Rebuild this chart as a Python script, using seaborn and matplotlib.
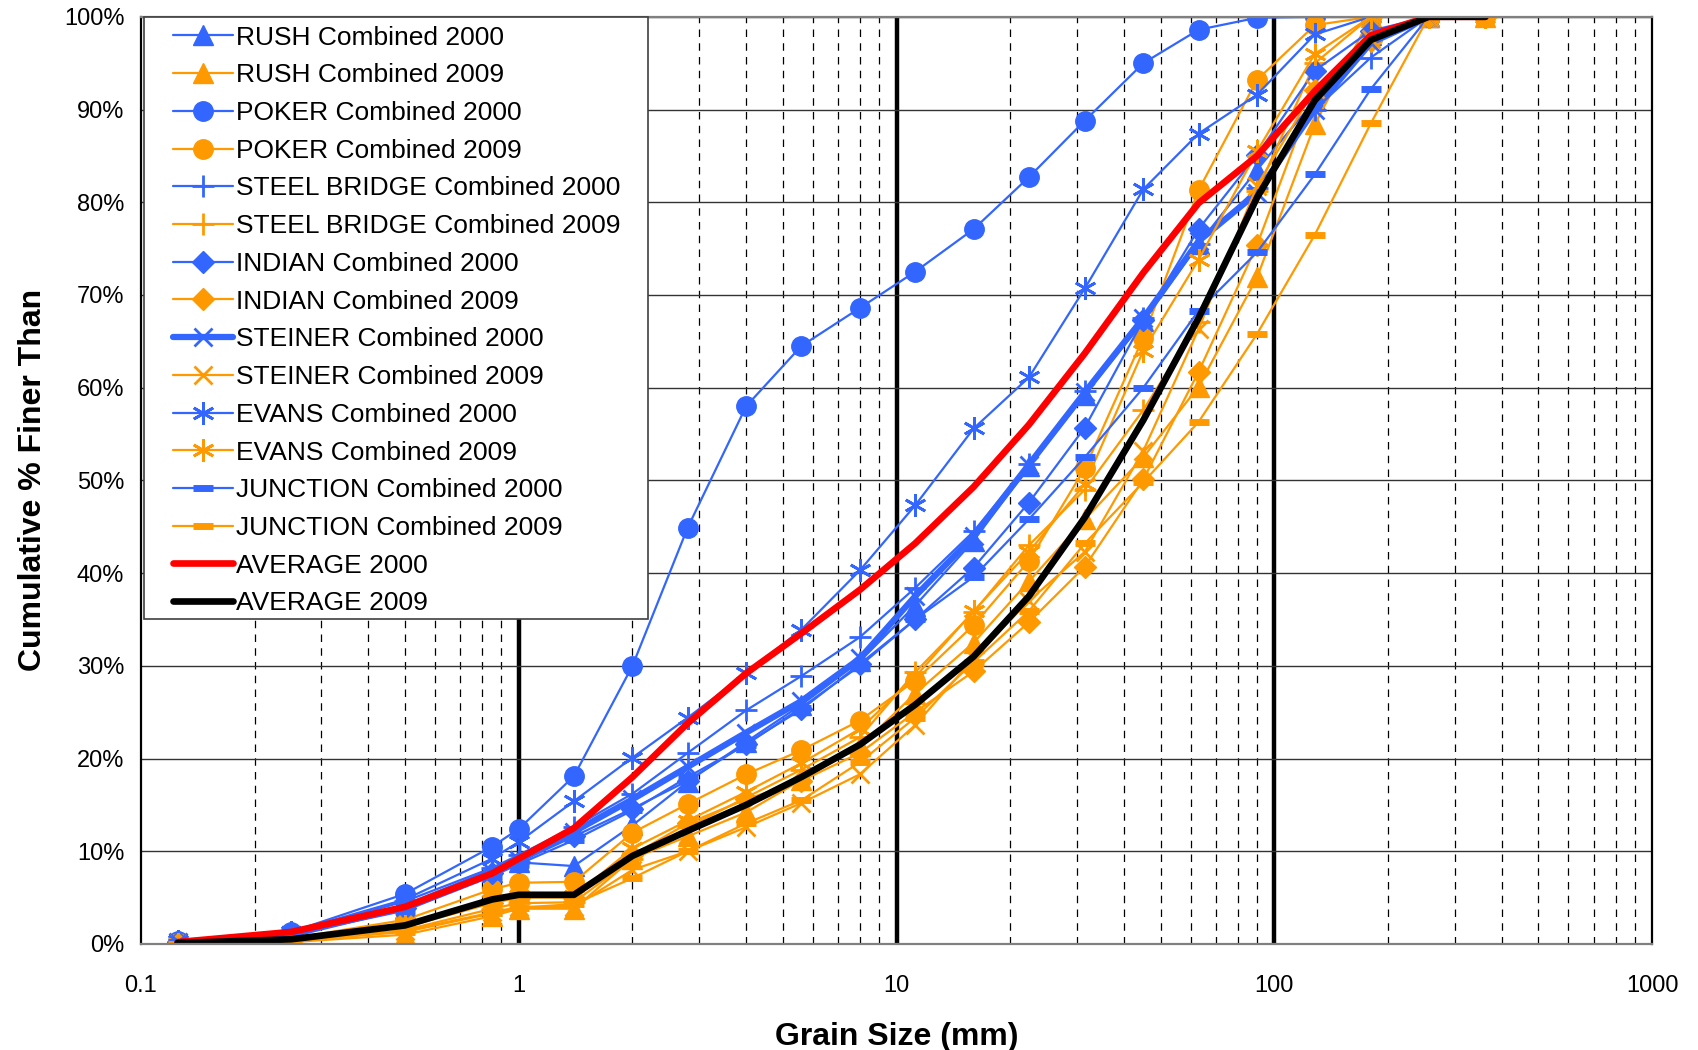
import numpy as np
import seaborn as sns
import matplotlib.pyplot as plt
from matplotlib.patches import Rectangle
from matplotlib.ticker import LogLocator, FixedLocator, FixedFormatter, NullFormatter, MultipleLocator, PercentFormatter

sns.set_style("white")
plt.rcParams['font.family'] = ['Liberation Sans', 'DejaVu Sans']
plt.rcParams['text.color'] = 'black'
plt.rcParams['axes.labelcolor'] = 'black'
plt.rcParams['xtick.color'] = 'black'
plt.rcParams['ytick.color'] = 'black'

# sieve sizes (mm)
sizes_2000 = [0.125, 0.25, 0.5, 0.85, 1, 1.4, 2, 2.8, 4, 5.6, 8, 11.2, 16, 22.4, 31.5, 45, 63, 90, 128, 180, 256]
sizes_2009 = sizes_2000 + [362]

rush_2000 = [0.2, 1.0, 3.8, 7.8, 8.8, 8.4, 12.8, 17.5, 21.8, 25.8, 30.5, 36.5, 43.5, 51.5, 59.2, 67.2, 75.5, 83.5, 91, 98, 100]
rush_2009 = [0, 0.2, 1.0, 3.0, 3.8, 3.8, 9.2, 11.6, 14.2, 17.7, 21.3, 27, 32.5, 39.1, 45.8, 52.5, 60.1, 71.9, 88.4, 100, 100, 100]
poker_2000 = [0.3, 1.3, 5.4, 10.5, 12.4, 18.1, 30, 44.9, 58, 64.5, 68.6, 72.5, 77.1, 82.7, 88.8, 95, 98.6, 99.9, 100, 100, 100]
poker_2009 = [0.1, 0.6, 2.6, 5.9, 6.6, 6.7, 12, 15.1, 18.3, 20.9, 24.1, 28.4, 34.4, 41.3, 51.3, 65.4, 81.3, 93.2, 99.1, 100, 100, 100]
steel_2000 = [0.2, 1.2, 4.6, 8.2, 9.6, 12.6, 16.2, 20.6, 25.2, 28.9, 33.1, 38.4, 44.5, 51.8, 59.6, 67.5, 75.5, 81.5, 90, 95.6, 100]
steel_2009 = [0, 0.3, 1.5, 3.8, 4.4, 4.5, 9.2, 12.6, 15.8, 18.8, 22.3, 29.3, 35.8, 43, 49, 57.6, 67.1, 81.2, 95, 100, 100, 100]
indian_2000 = [0.2, 1.0, 3.9, 7.6, 8.8, 11.6, 14.6, 17.6, 21.6, 25.3, 30.2, 35, 40.6, 47.6, 55.7, 67.3, 77.1, 85.1, 94.2, 98.5, 100]
indian_2009 = [0, 0.3, 1.8, 4.4, 5.0, 5.0, 9.6, 13, 15.6, 17.6, 20.6, 25, 29.4, 34.7, 40.7, 50.1, 61.7, 75.4, 92.1, 97.4, 100, 100]
steiner_2000 = [0.2, 1.0, 4.0, 7.8, 9.1, 12.1, 15.6, 19.1, 22.8, 26.2, 30.8, 37.5, 44, 51.7, 59.5, 67.5, 75.8, 81, 90, 97.2, 100]
steiner_2009 = [0, 0.3, 1.4, 3.4, 4.0, 4.0, 8.0, 10.0, 12.6, 15.2, 18.3, 23.6, 30.8, 37, 42.3, 53.2, 66.3, 81.8, 92.2, 97.6, 100, 100]
evans_2000 = [0.3, 1.3, 4.8, 9.2, 11, 15.4, 20.1, 24.4, 29.2, 33.9, 40.3, 47.3, 55.6, 61.1, 70.7, 81.4, 87.4, 91.6, 98.1, 100, 100]
evans_2009 = [0, 0.4, 1.9, 4.6, 5.2, 5.2, 10.3, 13.3, 16.4, 19.5, 23.2, 28.8, 35.9, 42.3, 49.6, 64, 73.8, 85.5, 96, 100, 100, 100]
junction_2000 = [0.2, 1.0, 3.6, 7.3, 8.6, 11.2, 14.4, 18, 21.5, 25.5, 30, 35, 39.6, 45.8, 52.5, 60, 68.3, 74.6, 83, 92.2, 100]
junction_2009 = [0, 0.3, 1.3, 3.3, 3.9, 4.3, 7.1, 10, 13, 15.5, 19.6, 24.4, 30.4, 35.9, 43.2, 49.8, 56.3, 65.8, 76.5, 88.5, 100, 100]
average_2000 = [0.2, 1.3, 4.0, 7.6, 9.2, 12.5, 18, 23.8, 29.2, 33.5, 38.2, 43.2, 49.3, 56, 63.7, 72.4, 79.9, 85, 92, 98, 100, 100]
average_2009 = [0.1, 0.5, 2.0, 4.8, 5.3, 5.3, 9.5, 12.2, 15, 18, 21.5, 25.8, 31, 37.5, 46, 56.5, 67.5, 80.5, 91, 97.5, 100, 100]

BLUE = "#3366FF"
ORANGE = "#FF9900"
ASTERISK = (6, 2, 0)

# (label, sizes, values, color, marker, markersize, linewidth)
series = [
    ("RUSH Combined 2000", sizes_2000, rush_2000, BLUE, "^", 14, 1.6),
    ("RUSH Combined 2009", sizes_2009, rush_2009, ORANGE, "^", 14, 1.6),
    ("POKER Combined 2000", sizes_2000, poker_2000, BLUE, "o", 14, 1.6),
    ("POKER Combined 2009", sizes_2009, poker_2009, ORANGE, "o", 14, 1.6),
    ("STEEL BRIDGE Combined 2000", sizes_2000, steel_2000, BLUE, "+", 16, 1.6),
    ("STEEL BRIDGE Combined 2009", sizes_2009, steel_2009, ORANGE, "+", 16, 1.6),
    ("INDIAN Combined 2000", sizes_2000, indian_2000, BLUE, "D", 11, 1.6),
    ("INDIAN Combined 2009", sizes_2009, indian_2009, ORANGE, "D", 11, 1.6),
    ("STEINER Combined 2000", sizes_2000, steiner_2000, BLUE, "x", 13, 4.5),
    ("STEINER Combined 2009", sizes_2009, steiner_2009, ORANGE, "x", 13, 1.6),
    ("EVANS Combined 2000", sizes_2000, evans_2000, BLUE, ASTERISK, 16, 1.6),
    ("EVANS Combined 2009", sizes_2009, evans_2009, ORANGE, ASTERISK, 16, 1.6),
    ("JUNCTION Combined 2000", sizes_2000, junction_2000, BLUE, "_", 14, 1.6),
    ("JUNCTION Combined 2009", sizes_2009, junction_2009, ORANGE, "_", 14, 1.6),
    ("AVERAGE 2000", sizes_2009, average_2000, "#FF0000", None, 0, 4.8),
    ("AVERAGE 2009", sizes_2009, average_2009, "#000000", None, 0, 4.8),
]

fig = plt.figure(figsize=(16.98, 10.5), dpi=100)
ax = fig.add_axes([0.083, 0.101, 0.89, 0.883])

for label, xs, ys, color, marker, ms, lw in series:
    kw = dict(marker=marker, markersize=ms, markerfacecolor=color, markeredgecolor=color)
    if marker in ("+", "x", ASTERISK):
        kw["markeredgewidth"] = 2
    elif marker == "_":
        kw["markeredgewidth"] = 5
    else:
        kw["markeredgewidth"] = 1
    if marker is None:
        kw = {}
    sns.lineplot(x=xs, y=ys, ax=ax, color=color, linewidth=lw, label=label,
                 estimator=None, sort=False, solid_capstyle="round", **kw)

ax.set_xscale("log")
ax.set_xlim(0.1, 1000)
ax.set_ylim(0, 100)

# axes / grid in the old spreadsheet style
ax.xaxis.set_major_locator(FixedLocator([0.1, 1, 10, 100, 1000]))
ax.xaxis.set_major_formatter(FixedFormatter(["0.1", "1", "10", "100", "1000"]))
ax.xaxis.set_minor_locator(LogLocator(base=10, subs=np.arange(2, 10)))
ax.xaxis.set_minor_formatter(NullFormatter())
ax.yaxis.set_major_locator(MultipleLocator(10))
ax.yaxis.set_major_formatter(PercentFormatter(decimals=0))

ax.grid(False)
for v in [1, 10, 100]:
    ax.axvline(v, color="black", linewidth=3.2, zorder=0.5)
ax.grid(True, which="minor", axis="x", color="black", linestyle=(0, (6, 5)), linewidth=0.9, zorder=0)
ax.grid(True, which="major", axis="y", color="#333333", linewidth=1.0, zorder=0)
ax.set_axisbelow(True)

for side in ["left", "bottom", "right", "top"]:
    ax.spines[side].set_color("#808080")
    ax.spines[side].set_linewidth(1.6)
ax.spines["left"].set_color("black")
ax.spines["right"].set_color("black")

ax.tick_params(axis="both", which="major", labelsize=17, direction="out", length=6, color="black")
ax.tick_params(axis="x", which="major", pad=16)
ax.tick_params(axis="x", which="minor", direction="out", length=4)
ax.tick_params(axis="y", which="major", pad=6)

ax.set_xlabel("Grain Size (mm)", fontsize=23, fontweight="bold", labelpad=18)
ax.set_ylabel("Cumulative % Finer Than", fontsize=23, fontweight="bold", labelpad=11)

# legend box drawn separately so it can be sized like the original
box = Rectangle((0.0022, 0.3505), 0.3333, 0.6495, transform=ax.transAxes, facecolor="white",
                edgecolor="#404040", linewidth=1.2, zorder=5, clip_on=False)
ax.add_patch(box)
leg = ax.legend(loc="upper left", bbox_to_anchor=(0.0215, 0.9905), fontsize=19, frameon=False,
                borderaxespad=0, borderpad=0, handlelength=2.25, labelspacing=0.52,
                handletextpad=0.12, labelcolor="black")
leg.set_zorder(6)

plt.savefig("out.png", dpi=100)
